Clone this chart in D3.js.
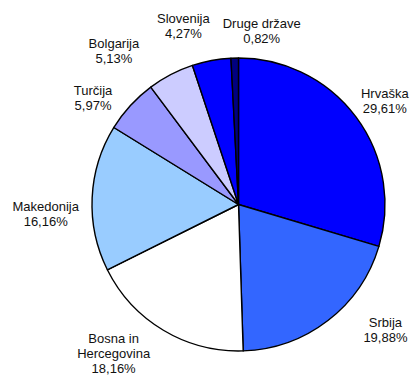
<!DOCTYPE html>
<html>
<head>
<meta charset="utf-8">
<script src="https://cdn.jsdelivr.net/npm/d3@7"></script>
<style>
  body { margin: 0; background: #fff; }
  svg { display: block; }
  text { font-family: "Liberation Sans", Arial, sans-serif; font-size: 13px; fill: #111; }
</style>
</head>
<body>
<svg width="411" height="375"></svg>
<script>
// data
var countries = ["Hrvaška", "Srbija", "Bosna in Hercegovina", "Makedonija", "Turčija", "Bolgarija", "Slovenija", "Druge države"];
var shares = [29.61, 19.88, 18.16, 16.16, 5.97, 5.13, 4.27, 0.82];
var labelLines = [["Hrvaška"], ["Srbija"], ["Bosna in", "Hercegovina"], ["Makedonija"], ["Turčija"], ["Bolgarija"], ["Slovenija"], ["Druge države"]];
var colors = ["#0000ff", "#3366ff", "#ffffff", "#99ccff", "#9999ff", "#ccccff", "#0000ff", "#000080"];

// label nudges from the default outer position (excel moves them around a bit)
var labelShift = [[-2, 7], [34, -21], [-30, -9.5], [-8, 18], [-9, 18], [-39, 11], [-21, 3], [28, 11]];

var svg = d3.select("svg"),
    cx = 238.5, cy = 204.5, radius = 146.5;

var pie = d3.pie().sort(null).value(function(d) { return d; });
var arcs = pie(shares);

var arc = d3.arc().innerRadius(0).outerRadius(radius);
var labelArc = d3.arc().innerRadius(185).outerRadius(185);

var g = svg.append("g").attr("transform", "translate(" + cx + "," + cy + ")");

g.selectAll("path")
  .data(arcs)
  .enter().append("path")
    .attr("d", arc)
    .attr("fill", function(d, i) { return colors[i]; })
    .attr("stroke", "#000")
    .attr("stroke-width", 1.4)
    .attr("stroke-linejoin", "round");

var fmt = function(v) { return v.toFixed(2).replace(".", ",") + "%"; };
var lineH = 15;

var labels = g.selectAll("text.lbl")
  .data(arcs)
  .enter().append("text")
    .attr("class", "lbl")
    .attr("text-anchor", "middle")
    .attr("transform", function(d, i) {
      var c = labelArc.centroid(d);
      return "translate(" + (c[0] + labelShift[i][0]) + "," + (c[1] + labelShift[i][1]) + ")";
    });

labels.each(function(d, i) {
  var lines = labelLines[i].concat([fmt(shares[i])]);
  var y0 = -(lines.length - 1) * lineH / 2 + 4.5;
  d3.select(this).selectAll("tspan")
    .data(lines)
    .enter().append("tspan")
      .attr("x", 0)
      .attr("y", function(t, k) { return y0 + k * lineH; })
      .text(function(t) { return t; });
});
</script>
</body>
</html>
